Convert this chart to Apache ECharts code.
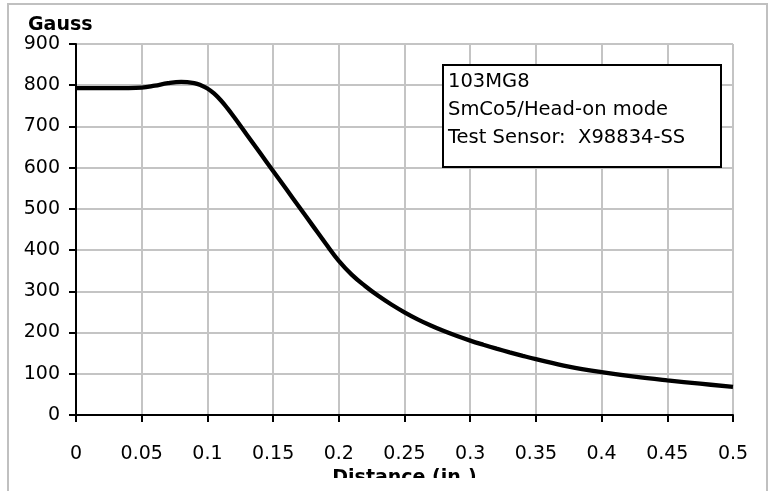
<!DOCTYPE html>
<html>
<head>
<meta charset="utf-8">
<script src="https://cdn.jsdelivr.net/npm/echarts@6/dist/echarts.min.js"></script>
<style>
html,body{margin:0;padding:0;background:#fff;}
#chart{width:775px;height:491px;}
</style>
</head>
<body>
<div id="chart"></div>
<script>
const distance = [0, 0.01, 0.02, 0.03, 0.04, 0.05, 0.06, 0.07, 0.08, 0.09, 0.095, 0.1, 0.105, 0.11, 0.115, 0.12, 0.13, 0.14, 0.15, 0.16, 0.17, 0.18, 0.19, 0.2, 0.21, 0.22, 0.23, 0.24, 0.25, 0.26, 0.27, 0.28, 0.29, 0.3, 0.31, 0.32, 0.33, 0.34, 0.35, 0.375, 0.4, 0.425, 0.45, 0.475, 0.5];
const gauss = [793, 793, 793, 793, 793, 794, 799, 805, 808, 805, 800, 792, 780, 764, 745, 724, 680, 636, 592, 548, 504, 460, 416, 374, 340, 313, 289, 268, 249, 232, 217, 203.5, 191.5, 180.5, 170.5, 161, 152, 143.5, 135.5, 117.5, 104, 93, 84, 76, 68];
const xTickLabels = ['0', '0.05', '0.1', '0.15', '0.2', '0.25', '0.3', '0.35', '0.4', '0.45', '0.5'];
const yTickLabels = ['0', '100', '200', '300', '400', '500', '600', '700', '800', '900'];
const legendLines = ['103MG8', 'SmCo5/Head-on mode', 'Test Sensor:  X98834-SS'];
const yTitle = 'Gauss';
const xTitle = 'Distance (in.)';

const FONT = 'DejaVu Sans';
const chart = echarts.init(document.getElementById('chart'), null, {renderer: 'canvas'});

const legendGraphics = [{
  type: 'rect', z: 50,
  shape: {x: 443, y: 65, width: 278, height: 102},
  style: {fill: '#fff', stroke: '#000', lineWidth: 2}
}];
legendLines.forEach((t, i) => {
  legendGraphics.push({
    type: 'text', z: 51, x: 448, y: 82 + i * 28,
    style: {text: t, fill: '#000', font: '19.5px "' + FONT + '"', textVerticalAlign: 'middle'}
  });
});

chart.setOption({
  animation: false,
  backgroundColor: '#fff',
  grid: {left: 76, right: 42, top: 44, bottom: 76, containLabel: false, outerBoundsMode: 'none'},
  xAxis: {
    type: 'value', min: 0, max: 0.5, interval: 0.05,
    name: xTitle, nameLocation: 'middle', nameGap: 53,
    nameTextStyle: {fontFamily: FONT, fontSize: 19, fontWeight: 'bold', color: '#000'},
    axisLine: {show: true, onZero: false, lineStyle: {color: '#000', width: 2}},
    axisTick: {show: true, inside: false, length: 7, lineStyle: {color: '#000', width: 2}},
    axisLabel: {
      margin: 30, fontFamily: FONT, fontSize: 19, color: '#000',
      formatter: v => xTickLabels[Math.round(v / 0.05)] || ''
    },
    splitLine: {show: true, lineStyle: {color: '#c4c4c4', width: 2}}
  },
  yAxis: {
    type: 'value', min: 0, max: 900, interval: 100,
    axisLine: {show: true, lineStyle: {color: '#000', width: 2}},
    axisTick: {show: true, inside: false, length: 7, lineStyle: {color: '#000', width: 2}},
    axisLabel: {
      margin: 16, fontFamily: FONT, fontSize: 19, color: '#000',
      formatter: v => yTickLabels[Math.round(v / 100)] || ''
    },
    splitLine: {show: true, lineStyle: {color: '#c4c4c4', width: 2}}
  },
  series: [{
    type: 'line',
    data: distance.map((d, i) => [d, gauss[i]]),
    smooth: 0.4,
    showSymbol: false,
    lineStyle: {color: '#000', width: 4.3},
    z: 10
  }],
  graphic: [
    {
      type: 'rect', z: 1, silent: true,
      shape: {x: 8, y: 4, width: 759, height: 540},
      style: {fill: 'none', stroke: '#c0c0c0', lineWidth: 2}
    },
    {
      type: 'text', z: 60, x: 28, y: 25,
      style: {text: yTitle, fill: '#000', font: 'bold 19px "' + FONT + '"', textVerticalAlign: 'middle'}
    },
    {
      type: 'rect', z: 100, silent: true,
      shape: {x: 10, y: 478, width: 756, height: 20},
      style: {fill: '#fff'}
    }
  ].concat(legendGraphics)
});
</script>
</body>
</html>
